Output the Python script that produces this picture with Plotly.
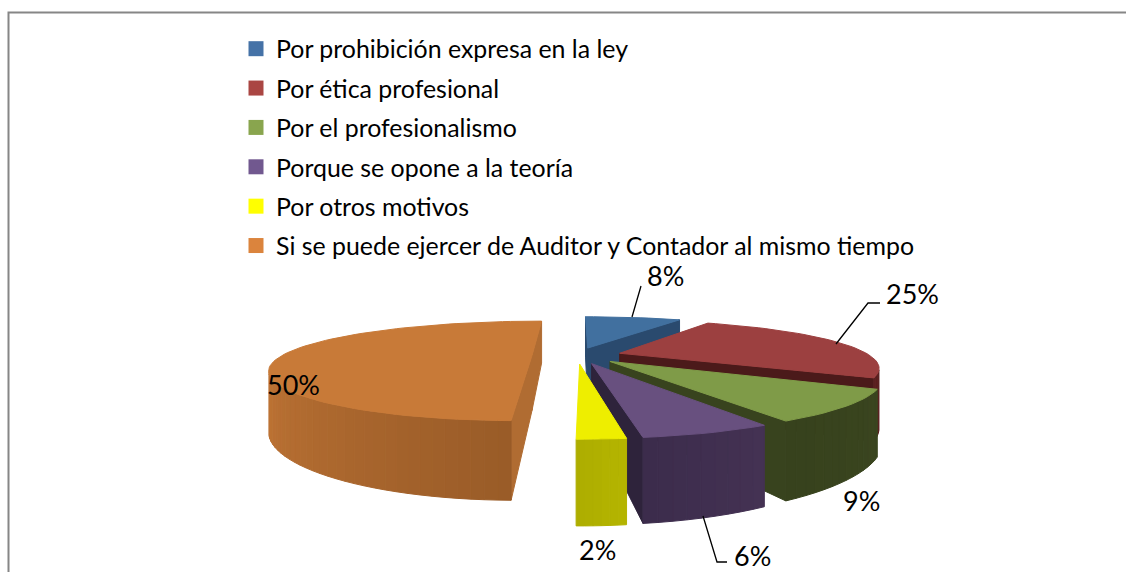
import numpy as np
import plotly.graph_objects as go

# Data
categories = ["Por prohibición expresa en la ley", "Por ética profesional", "Por el profesionalismo",
              "Porque se opone a la teoría", "Por otros motivos",
              "Si se puede ejercer de Auditor y Contador al mismo tiempo"]
values = [8, 25, 9, 6, 2.2, 49.8]
labels = ["8%", "25%", "9%", "6%", "2%", "50%"]

# Styles
top_colors = ["#41709f", "#9c4040", "#7f9b48", "#68507f", "#eeee00", "#c87a38"]
legend_colors = ["#4572a7", "#aa4643", "#89a54e", "#71588f", "#ffff00", "#db843d"]
wall_light = ["#2c4c70", "#6e2c2c", "#3a451f", "#443253", "#b4b400", "#c87a38"]
wall_dark = ["#2a4868", "#5a2020", "#37421d", "#3c2c4c", "#aeae00", "#9a5c28"]
cut_colors = ["#2a4a6e", "#4b1a1a", "#38431e", "#2e233b", "#b2b200", "#b06c32"]

# Projection (pixels)
CX, CY, AX, AY, PX, PY, DEPTH, EXPLODE = 577, 355.5, 250, 45, 0.27, 0.31, 55, 0.18
VIEW_Z = 1 / PY

label_pos = [(665, 275), (912, 293), (861, 500), (752, 555), (597, 549), (293, 384)]
leaders = [[(632, 317), (641, 286)], [(836, 344), (868, 303), (880, 303)],
           [(703, 516), (717, 562), (727, 562)]]


def project(x, z, bottom=False):
    wx, wy = 1 - PX * z, 1 - PY * z
    sx = CX + AX * x / wx
    sy = CY + AY * z / wy + (DEPTH / wy if bottom else 0)
    return sx, sy


def mix(c1, c2, t):
    a = [int(c1[i:i + 2], 16) for i in (1, 3, 5)]
    b = [int(c2[i:i + 2], 16) for i in (1, 3, 5)]
    return "#%02x%02x%02x" % tuple(round(p + (q - p) * t) for p, q in zip(a, b))


def poly(fig, xs, ys, color):
    fig.add_trace(go.Scatter(x=list(xs) + [xs[0]], y=list(ys) + [ys[0]], mode="lines", fill="toself",
                             fillcolor=color, line=dict(color=color, width=1),
                             hoverinfo="skip", showlegend=False))


def faces_viewer(px, pz, nx, nz):
    return nx * (0 - px) + nz * (VIEW_Z - pz) > 0


fig = go.Figure()
edges = np.concatenate([[0], np.cumsum(values)]) / sum(values) * 2 * np.pi
order = [5, 0, 1, 2, 3, 4]

for i in order:
    a0, a1 = edges[i], edges[i + 1]
    mid = (a0 + a1) / 2
    ex, ez = EXPLODE * np.sin(mid), -EXPLODE * np.cos(mid)
    n = max(6, int(values[i] * 1.6))
    ang = np.linspace(a0, a1, n + 1)
    ax = ex + np.sin(ang)
    az = ez - np.cos(ang)
    # cut faces (only those turned towards the viewer)
    for (px, pz, nang) in ((ax[0], az[0], a0 - np.pi / 2), (ax[-1], az[-1], a1 + np.pi / 2)):
        if faces_viewer(ex, ez, np.sin(nang), -np.cos(nang)):
            p = [project(ex, ez), project(px, pz), project(px, pz, True), project(ex, ez, True)]
            poly(fig, [q[0] for q in p], [q[1] for q in p], cut_colors[i])
    # outer wall
    for k in range(n):
        m = (ang[k] + ang[k + 1]) / 2
        if not faces_viewer(ex + np.sin(m), ez - np.cos(m), np.sin(m), -np.cos(m)):
            continue
        p = [project(ax[k], az[k]), project(ax[k + 1], az[k + 1]),
             project(ax[k + 1], az[k + 1], True), project(ax[k], az[k], True)]
        t = k / max(n - 1, 1)
        if i == 5:
            t = 1 - t
            t = max(0, min(1, (t - 0.5) * 2))
        poly(fig, [q[0] for q in p], [q[1] for q in p], mix(wall_light[i], wall_dark[i], t))
    # top face
    tx, ty = project(np.concatenate([[ex], ax]), np.concatenate([[ez], az]))
    poly(fig, list(tx), list(ty), top_colors[i])

for seg in leaders:
    fig.add_trace(go.Scatter(x=[p[0] for p in seg], y=[p[1] for p in seg], mode="lines",
                             line=dict(color="#000000", width=1.3), hoverinfo="skip", showlegend=False))

for k, (name, color) in enumerate(zip(categories, legend_colors)):
    fig.add_trace(go.Scatter(x=[None], y=[None], mode="markers", name=name, legendgroup=str(k),
                             marker=dict(symbol="square", size=15, color=color)))

for text, (x, y) in zip(labels, label_pos):
    fig.add_annotation(x=x, y=y, text=text, showarrow=False, xanchor="center", yanchor="middle",
                       font=dict(family="Lato", size=27, color="#000000"))

fig.add_shape(type="rect", x0=8.5, y0=12.5, x1=1200, y1=700, line=dict(color="#868686", width=2), layer="below")

fig.update_layout(
    width=1126, height=572, margin=dict(l=0, r=0, t=0, b=0),
    paper_bgcolor="#ffffff", plot_bgcolor="#ffffff",
    xaxis=dict(range=[0, 1126], visible=False, fixedrange=True),
    yaxis=dict(range=[572, 0], visible=False, fixedrange=True),
    font=dict(family="Lato", color="#000000"),
    legend=dict(x=242 / 1126, y=1 - 26 / 572, xanchor="left", yanchor="top", bgcolor="rgba(0,0,0,0)",
                font=dict(family="Lato", size=24.9, color="#000000"), tracegroupgap=4, itemwidth=30,
                indentation=-6, traceorder="grouped"),
)
fig.write_html("out.html", config={"displayModeBar": False}, post_script="document.body.style.margin='0';")
